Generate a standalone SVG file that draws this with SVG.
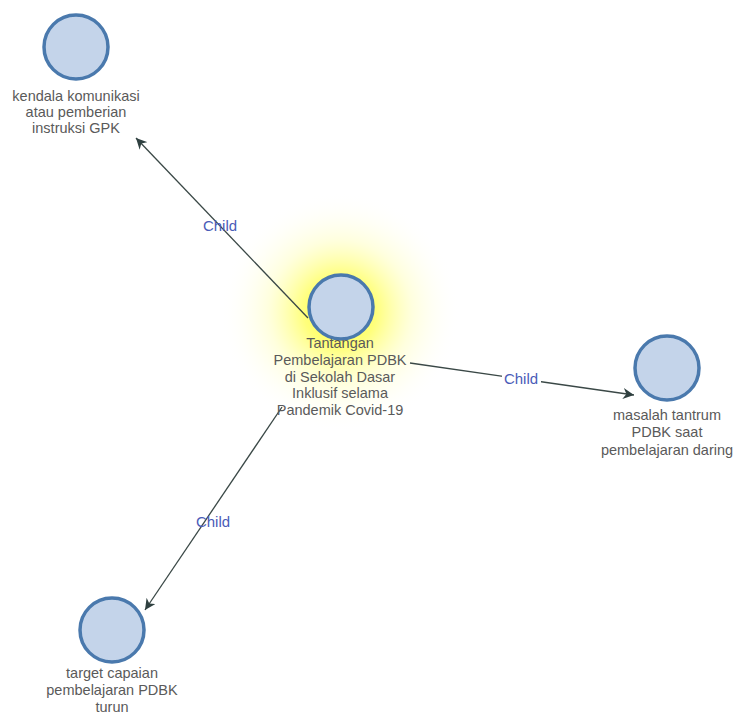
<svg xmlns="http://www.w3.org/2000/svg" width="734" height="714" viewBox="0 0 734 714">
<defs>
<radialGradient id="glow" cx="0.5" cy="0.5" r="0.5">
<stop offset="0" stop-color="#ffff30" stop-opacity="1"/>
<stop offset="0.3" stop-color="#ffff50" stop-opacity="0.75"/>
<stop offset="0.6" stop-color="#ffffa0" stop-opacity="0.35"/>
<stop offset="1" stop-color="#ffffff" stop-opacity="0"/>
</radialGradient>
<marker id="arr" viewBox="0 0 10 10" refX="10" refY="5" markerWidth="11" markerHeight="11" markerUnits="userSpaceOnUse" orient="auto">
<path d="M0,0 L10,5 L0,10 L3,5 Z" fill="#2f4040"/>
</marker>
<style>
.node circle{fill:#c4d4ea;stroke:#4a79ad;stroke-width:3.5}
.lbl{font-family:"Liberation Sans",Arial,sans-serif;font-size:14.5px;fill:#5a5a5a;text-anchor:middle}
.edge{stroke:#3a4846;stroke-width:1.3;fill:none;marker-end:url(#arr)}
.el{font-family:"Liberation Sans",Arial,sans-serif;font-size:15px;fill:#4a5cb8;text-anchor:middle}
.elbg{fill:#ffffff}
</style>
</defs>
<rect width="734" height="714" fill="#ffffff"/>
<circle cx="340" cy="312" r="120" fill="url(#glow)"/>
<g id="connectors">
<path class="edge" d="M308,318 L136,138"/>
<path class="edge" d="M410,363 L634,395"/>
<path class="edge" d="M282,407 L145,610"/>
<text class="el" x="220" y="231">Child</text>
<rect class="elbg" x="502" y="371" width="39" height="15"/>
<text class="el" x="521" y="384">Child</text>
<text class="el" x="213" y="527">Child</text>
</g>
<g id="n1" class="node">
<circle cx="76" cy="47" r="32"/>
<text class="lbl" x="76" y="101">kendala komunikasi</text>
<text class="lbl" x="76" y="117">atau pemberian</text>
<text class="lbl" x="76" y="133">instruksi GPK</text>
</g>
<g id="n0" class="node">
<circle cx="341" cy="307" r="32"/>
<text class="lbl" x="340" y="348">Tantangan</text>
<text class="lbl" x="340" y="365">Pembelajaran PDBK</text>
<text class="lbl" x="340" y="382">di Sekolah Dasar</text>
<text class="lbl" x="340" y="398">Inklusif selama</text>
<text class="lbl" x="340" y="415">Pandemik Covid-19</text>
</g>
<g id="n2" class="node">
<circle cx="667" cy="368" r="32"/>
<text class="lbl" x="667" y="420">masalah tantrum</text>
<text class="lbl" x="667" y="437">PDBK saat</text>
<text class="lbl" x="667" y="455">pembelajaran daring</text>
</g>
<g id="n3" class="node">
<circle cx="112" cy="630" r="32"/>
<text class="lbl" x="112" y="678">target capaian</text>
<text class="lbl" x="112" y="695">pembelajaran PDBK</text>
<text class="lbl" x="112" y="712">turun</text>
</g>
</svg>
